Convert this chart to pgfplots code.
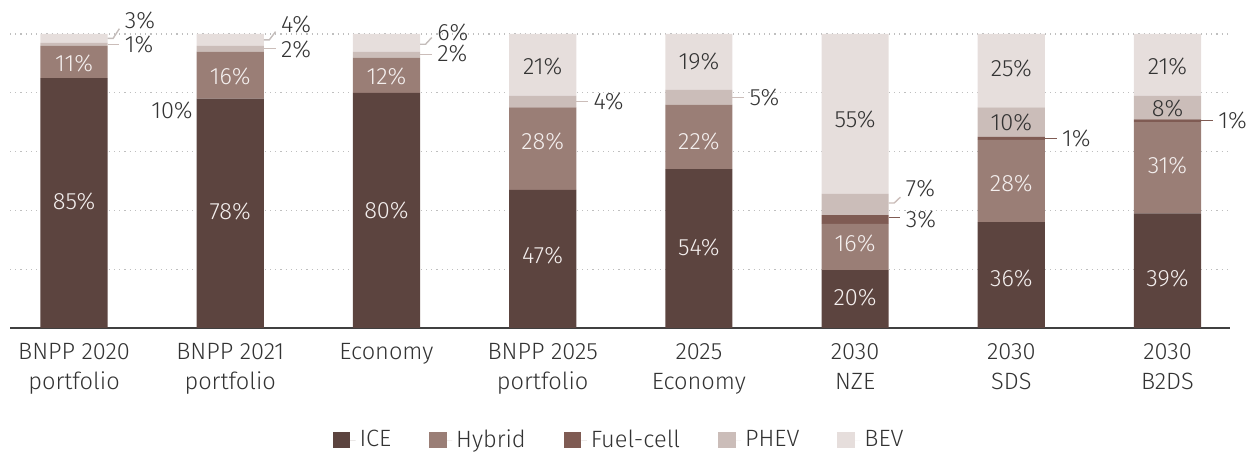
\documentclass[border=0pt]{standalone}
\usepackage{fontspec}
\setmainfont{Fira Sans Light}
\usepackage{pgfplots}
\pgfplotsset{compat=1.18}

\definecolor{iceC}{HTML}{5C443F}
\definecolor{hybC}{HTML}{9A7E76}
\definecolor{fcC}{HTML}{7F5B53}
\definecolor{phevC}{HTML}{CBBDB9}
\definecolor{bevC}{HTML}{E6DEDC}
\definecolor{txt}{HTML}{333333}
\definecolor{lbW}{HTML}{F4EFEE}

\newcommand\lab{\fontsize{11.8}{15.2}\selectfont}

\pgfplotsset{
  frame/.style={width=610pt, height=147pt, scale only axis,
    at={(0,0)}, anchor=south west,
    xmin=-0.41, xmax=7.4, ymin=0, ymax=100, clip=false},
  seg/.style={fill=#1, draw=none,
    legend image code/.code={\fill[#1] (0pt,-4.2pt) rectangle (8.8pt,4.2pt);
      \path (8.8pt,0pt) -- (11.5pt,0pt);}},
  inlab/.style={draw=none, mark=none, nodes near coords,
    point meta=explicit symbolic,
    nodes near coords style={anchor=center, font=\lab, text=#1}},
  outlab/.style={draw=none, mark=none, nodes near coords,
    point meta=explicit symbolic,
    nodes near coords style={anchor=#1, inner sep=1pt, font=\lab, text=txt}},
}

\begin{document}
\begin{tikzpicture}
  \begin{axis}[frame, name=main,
      ybar stacked, bar width=0.43,
      axis lines*=left,
      y axis line style={draw=none},
      x axis line style={draw=black!75, line width=1pt},
      major tick length=0pt,
      xtick={0,...,7},
      xticklabels={{BNPP 2020\\portfolio}, {BNPP 2021\\portfolio}, Economy,
        {BNPP 2025\\portfolio}, {2025\\Economy}, {2030\\NZE}, {2030\\SDS},
        {2030\\B2DS}},
      xticklabel style={align=center, font=\lab, text=txt, yshift=-4pt},
      ytick={20,40,60,80,100}, yticklabels={},
      ymajorgrids,
      grid style={black!25, line width=0.6pt, dash pattern=on 0.6pt off 2pt},
      legend style={at={(0.5,-0.381)}, anchor=center, draw=none,
        font=\lab, text=txt, legend columns=-1,
        /tikz/every even column/.append style={column sep=17pt}},
    ]
    \addplot[seg=iceC] coordinates {(0,85) (1,78) (2,80) (3,47) (4,54) (5,19.7) (6,36) (7,39)};
    \addplot[seg=hybC] coordinates {(0,11) (1,16) (2,12) (3,28) (4,22) (5,15.7) (6,28) (7,31)};
    \addplot[seg=fcC] coordinates {(0,0) (1,0) (2,0) (3,0) (4,0) (5,3) (6,1) (7,1)};
    \addplot[seg=phevC] coordinates {(0,1) (1,2) (2,2) (3,4) (4,5) (5,7.2) (6,10) (7,8)};
    \addplot[seg=bevC] coordinates {(0,3) (1,4) (2,6) (3,21) (4,19) (5,54.4) (6,25) (7,21)};
    \legend{ICE, Hybrid, Fuel-cell, PHEV, BEV}
  \end{axis}

  \begin{axis}[frame, axis lines=none, xtick=\empty, ytick=\empty]
    % labels inside the bars
    \addplot[inlab=lbW] coordinates {
      (0,42.9) [85\%] (0,90.1) [11\%]
      (1,39.5) [78\%] (1,85.4) [16\%]
      (2,40) [80\%] (2,85.7) [12\%]
      (3,24.8) [47\%] (3,63.6) [28\%]
      (4,27.5) [54\%] (4,63.6) [22\%]
      (5,10.5) [20\%] (5,28.6) [16\%]
      (6,17) [36\%] (6,49.3) [28\%]
      (7,17) [39\%] (7,55.4) [31\%]};
    \addplot[inlab=txt] coordinates {
      (3,88.8) [21\%] (4,90.5) [19\%] (5,71) [55\%]
      (6,88.1) [25\%] (6,70) [10\%]
      (7,88.8) [21\%] (7,74.5) [8\%]};
    % small shares, outside
    \addplot[outlab=west] coordinates {
      (0.31,104.6) [3\%] (0.31,96.4) [1\%]
      (1.31,103.4) [4\%] (1.31,94.6) [2\%]
      (2.31,100.5) [6\%] (2.31,93.3) [2\%]
      (3.31,77) [4\%] (4.31,78.3) [5\%]
      (5.31,47.6) [7\%] (5.31,36.8) [3\%]
      (6.31,64.6) [1\%] (7.31,70.7) [1\%]};
    \addplot[outlab=east] coordinates {(0.775,74.1) [10\%]};
    % leader lines
    \addplot[bevC!85!black, line width=0.7pt] coordinates {(0.215,98.5) (0.25,98.5) (0.29,101.8)};
    \addplot[bevC!85!black, line width=0.7pt] coordinates {(1.215,98) (1.25,98) (1.29,100.8)};
    \addplot[bevC!85!black, line width=0.7pt] coordinates {(2.215,96.5) (2.25,96.5) (2.29,98.8)};
    \addplot[phevC, line width=0.7pt] coordinates {(0.215,96.5) (0.29,96.5)};
    \addplot[phevC, line width=0.7pt] coordinates {(1.215,95) (1.29,95)};
    \addplot[phevC, line width=0.7pt] coordinates {(2.215,93) (2.29,93)};
    \addplot[phevC, line width=0.7pt] coordinates {(3.215,77) (3.29,77)};
    \addplot[phevC, line width=0.7pt] coordinates {(4.215,78.5) (4.29,78.5)};
    \addplot[phevC, line width=0.7pt] coordinates {(5.215,42.5) (5.25,42.5) (5.29,44.5)};
    \addplot[fcC, line width=0.7pt] coordinates {(5.215,37.5) (5.29,37.5)};
    \addplot[fcC, line width=0.7pt] coordinates {(6.215,64.5) (6.29,64.5)};
    \addplot[fcC, line width=0.7pt] coordinates {(7.215,70.5) (7.29,70.5)};
  \end{axis}

  \pgfresetboundingbox
  \path (main.south west) ++(-5pt,-62.5pt) rectangle ++(624pt,226.5pt);
\end{tikzpicture}
\end{document}
